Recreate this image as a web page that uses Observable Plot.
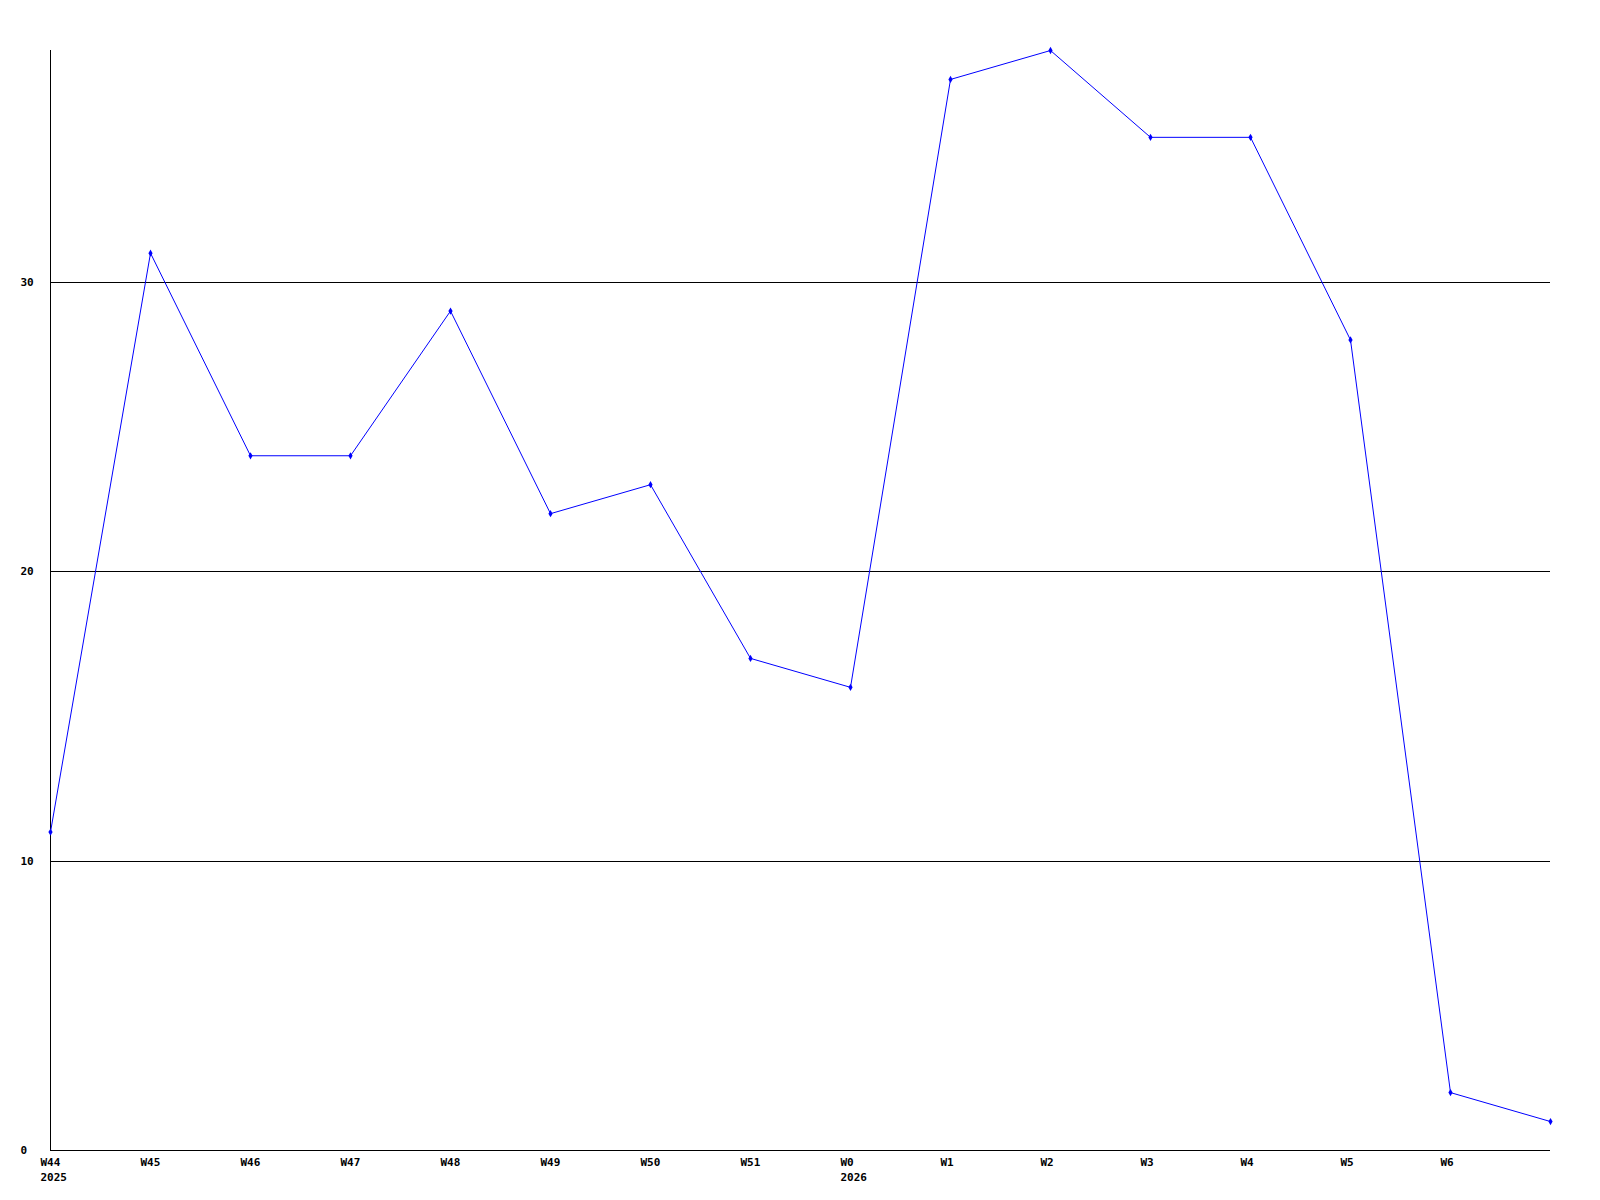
<!DOCTYPE html>
<html>
<head>
<meta charset="utf-8">
<script src="https://cdn.jsdelivr.net/npm/d3@7"></script>
<script src="https://cdn.jsdelivr.net/npm/@observablehq/plot@0.6"></script>
<style>
  html, body { margin: 0; padding: 0; background: #fff; }
  #chart svg { display: block; }
</style>
</head>
<body>
<div id="chart"></div>
<script>
const weeks = ["W44","W45","W46","W47","W48","W49","W50","W51","W0","W1","W2","W3","W4","W5","W6","W7"];
const years = ["2025","","","","","","","","2026","","","","","","",""];
const values = [11, 31, 24, 24, 29, 22, 23, 17, 16, 37, 38, 35, 35, 28, 2, 1];
const labeledTicks = [0,1,2,3,4,5,6,7,8,9,10,11,12,13,14];
const yTicks = [0, 10, 20, 30];
const gridValues = [10, 20, 30];

const data = values.map((v, i) => ({i, week: weeks[i], value: v}));

const chart = Plot.plot({
  width: 1600,
  height: 1200,
  marginLeft: 50,
  marginRight: 50,
  marginTop: 50,
  marginBottom: 50,
  style: {background: "#fff", fontFamily: "'DejaVu Sans Mono', monospace", fontSize: "11px", fontWeight: "bold", color: "#000"},
  x: {type: "linear", domain: [0, weeks.length - 1]},
  y: {domain: [0, 38]},
  marks: [
    Plot.ruleY(gridValues, {stroke: "#000", strokeWidth: 1, strokeOpacity: 1, shapeRendering: "crispEdges"}),
    Plot.ruleX([0], {stroke: "#000", strokeWidth: 1, shapeRendering: "crispEdges"}),
    Plot.ruleY([0], {stroke: "#000", strokeWidth: 1, shapeRendering: "crispEdges"}),
    Plot.axisY(yTicks, {tickSize: 0, tickPadding: 30, textAnchor: "start", fill: "#000", fontWeight: "bold", label: null}),
    Plot.axisX(labeledTicks, {tickSize: 0, tickPadding: 5, dx: -10, textAnchor: "start", lineHeight: 1.36, fill: "#000", fontWeight: "bold", label: null,
      tickFormat: i => years[i] ? weeks[i] + "\n" + years[i] : weeks[i]}),
    Plot.line(data, {x: "i", y: "value", stroke: "#0000ff", strokeWidth: 1}),
    Plot.dot(data, {x: "i", y: "value", symbol: "diamond", r: 2.2, fill: "#0000ff", stroke: "none"})
  ]
});
document.getElementById("chart").appendChild(chart);
</script>
</body>
</html>
